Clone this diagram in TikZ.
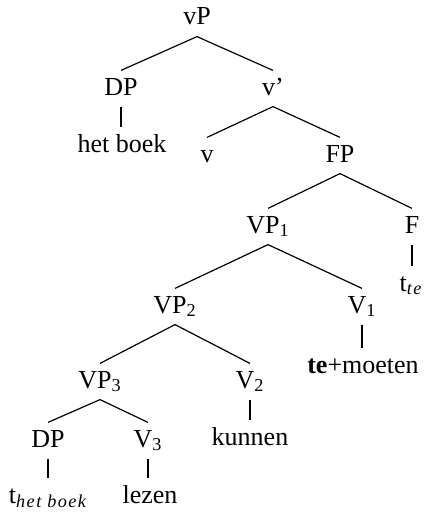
\documentclass[tikz,border=0pt]{standalone}
\usepackage{fontspec}
\setmainfont{Liberation Serif}
\newcommand{\catsub}[1]{\textsubscript{#1}}
\newcommand{\tracesub}[1]{\textsubscript{\itshape\addfontfeature{LetterSpace=8}#1}}

\begin{document}
\begin{tikzpicture}[x=0.5pt, y=-0.5pt, line width=0.6pt,
  cat/.style={anchor=base, text height=9pt, text depth=2.5pt,
    inner xsep=0pt, inner ysep=3pt, font=\fontsize{13}{15}\selectfont}]
  \useasboundingbox (0,0) rectangle (423,514);
  % vP and its daughters
  \node[cat] (vP)    at (197,25)  {vP};
  \node[cat] (DPa)   at (121,95)  {DP};
  \node[cat] (vbar)  at (273,95)  {v'};
  \node[cat] (hetboek) at (122,152) {het boek};
  \node[cat] (v)     at (207,162) {v};
  \node[cat] (FP)    at (340,162) {FP};
  % FP
  \node[cat] (VPa)   at (268,233) {VP\catsub{1}};
  \node[cat] (F)     at (412,233) {F};
  \node[cat] (tte)   at (411,291) {t\tracesub{te}};
  % verb cluster
  \node[cat] (VPb)   at (175,313) {VP\catsub{2}};
  \node[cat] (Va)    at (362,313) {V\catsub{1}};
  \node[cat] (moeten) at (363,373) {\textbf{te}+moeten};
  \node[cat] (VPc)   at (100,388) {VP\catsub{3}};
  \node[cat] (Vb)    at (250,388) {V\catsub{2}};
  \node[cat] (kunnen) at (250,445) {kunnen};
  \node[cat] (DPb)   at (48,447)  {DP};
  \node[cat] (Vc)    at (148,447) {V\catsub{3}};
  \node[cat] (tdp)   at (48,503)  {t\tracesub{het boek}};
  \node[cat] (lezen) at (150,503) {lezen};
  % branches
  \draw (vP.south) -- (DPa.north);
  \draw (vP.south) -- (vbar.north);
  \draw (vbar.south) -- (v.north);
  \draw (vbar.south) -- (FP.north);
  \draw (FP.south) -- (VPa.north);
  \draw (FP.south) -- (F.north);
  \draw (VPa.south) -- (VPb.north);
  \draw (VPa.south) -- (Va.north);
  \draw (VPb.south) -- (VPc.north);
  \draw (VPb.south) -- (Vb.north);
  \draw (VPc.south) -- (DPb.north);
  \draw (VPc.south) -- (Vc.north);
  % straight lines down to the words
  \draw (DPa.south) -- (DPa.south |- hetboek.north);
  \draw (F.south) -- (F.south |- tte.north);
  \draw (Va.south) -- (Va.south |- moeten.north);
  \draw (Vb.south) -- (Vb.south |- kunnen.north);
  \draw (DPb.south) -- (DPb.south |- tdp.north);
  \draw (Vc.south) -- (Vc.south |- lezen.north);
\end{tikzpicture}
\end{document}
